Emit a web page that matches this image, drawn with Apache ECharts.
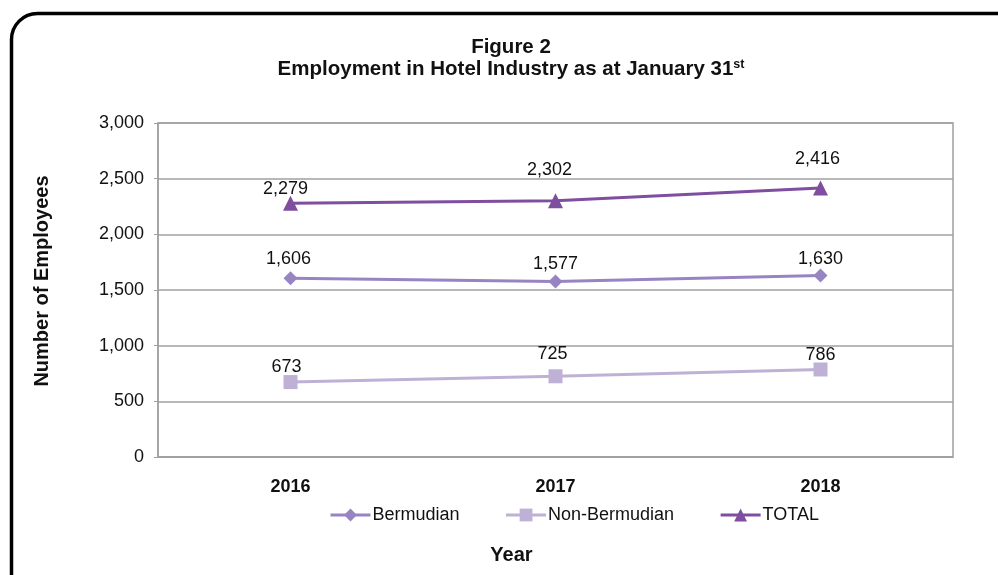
<!DOCTYPE html>
<html>
<head>
<meta charset="utf-8">
<script src="https://cdn.jsdelivr.net/npm/echarts@6/dist/echarts.min.js"></script>
<style>
html,body{margin:0;padding:0;background:#fff;}
#chart{width:998px;height:575px;}
</style>
</head>
<body>
<div id="chart"></div>
<script>
var categories = ['2016', '2017', '2018'];
var bermudian = [1606, 1577, 1630];
var nonBermudian = [673, 725, 786];
var total = [2279, 2302, 2416];
var yTicks = { min: 0, max: 3000, interval: 500 };

// label placement tweaks (style only, pixels)
var labelShift = {
  Bermudian: [[-2, 0], [0, 2], [0, 3]],
  'Non-Bermudian': [[-4, 4], [-3, -3], [0, 5]],
  TOTAL: [[-5, 5], [-6, -11], [-3, -9]]
};

var FONT = '"Liberation Sans", Arial, Helvetica, sans-serif';
var chart = echarts.init(document.getElementById('chart'));

function labelCfg() {
  return {
    show: true, position: 'top', distance: 3,
    color: '#111', fontSize: 18, fontFamily: FONT,
    formatter: function (p) { return p.value.toLocaleString('en-US'); }
  };
}
function withShift(name, values) {
  return values.map(function (v, i) {
    return { value: v, label: { offset: labelShift[name][i] } };
  });
}

chart.setOption({
  animation: false,
  textStyle: { fontFamily: FONT },
  graphic: [{
    type: 'rect', silent: true,
    shape: { x: 11.5, y: 13.5, width: 1010, height: 620, r: 26 },
    style: { fill: 'none', stroke: '#000', lineWidth: 3.5 }
  }],
  title: {
    text: 'Figure 2\nEmployment in Hotel Industry as at January 31{sup|st}',
    left: 511, textAlign: 'center', top: 36, padding: 0,
    textStyle: {
      fontFamily: FONT, fontSize: 20.5, fontWeight: 'bold', color: '#111', lineHeight: 22,
      rich: { sup: { fontSize: 12.5, fontWeight: 'bold', verticalAlign: 'top', padding: [0,0,8,0], fontFamily: FONT, color: '#111' } }
    }
  },
  legend: {
    bottom: 46, left: 324, itemGap: 45, itemWidth: 40, itemHeight: 16,
    lineStyle: { width: 3 },
    textStyle: { fontFamily: FONT, fontSize: 18, color: '#111', padding: [0,0,0,-3] },
    data: ['Bermudian', 'Non-Bermudian', 'TOTAL']
  },
  grid: { left: 158, right: 45, top: 123, bottom: 118, show: true, borderColor: '#A0A0A0', borderWidth: 1.5 },
  xAxis: {
    type: 'category', data: categories, boundaryGap: true,
    name: 'Year', nameLocation: 'middle', nameGap: 88,
    nameTextStyle: { fontFamily: FONT, fontSize: 20, fontWeight: 'bold', color: '#111', padding: [0, 88, 0, 0] },
    axisLine: { lineStyle: { color: '#A0A0A0', width: 1.5 } },
    axisTick: { show: false },
    axisLabel: { fontFamily: FONT, fontSize: 18, fontWeight: 'bold', color: '#111', margin: 21 }
  },
  yAxis: {
    type: 'value', min: yTicks.min, max: yTicks.max, interval: yTicks.interval,
    name: 'Number of Employees', nameLocation: 'middle', nameGap: 106, nameRotate: 90,
    nameTextStyle: { fontFamily: FONT, fontSize: 20, fontWeight: 'bold', color: '#111', padding: [0, 0, 0, 18] },
    axisLine: { show: true, lineStyle: { color: '#A0A0A0', width: 1.5 } },
    axisTick: { show: true, length: 4, lineStyle: { color: '#A0A0A0' } },
    axisLabel: { fontFamily: FONT, fontSize: 18, color: '#111', margin: 14,
      formatter: function (v) { return v.toLocaleString('en-US'); } },
    splitLine: { lineStyle: { color: '#A0A0A0', width: 1.5 } }
  },
  series: [
    { name: 'Bermudian', type: 'line', data: withShift('Bermudian', bermudian), symbol: 'diamond', symbolSize: 14,
      itemStyle: { color: '#9884C2' }, lineStyle: { color: '#9884C2', width: 3 }, label: labelCfg() },
    { name: 'Non-Bermudian', type: 'line', data: withShift('Non-Bermudian', nonBermudian), symbol: 'rect', symbolSize: 14,
      itemStyle: { color: '#BFB1D6' }, lineStyle: { color: '#BFB1D6', width: 3 }, label: labelCfg() },
    { name: 'TOTAL', type: 'line', data: withShift('TOTAL', total), symbol: 'triangle', symbolSize: 15,
      itemStyle: { color: '#7F4E9F' }, lineStyle: { color: '#7F4E9F', width: 3 }, label: labelCfg() }
  ]
});
</script>
</body>
</html>
